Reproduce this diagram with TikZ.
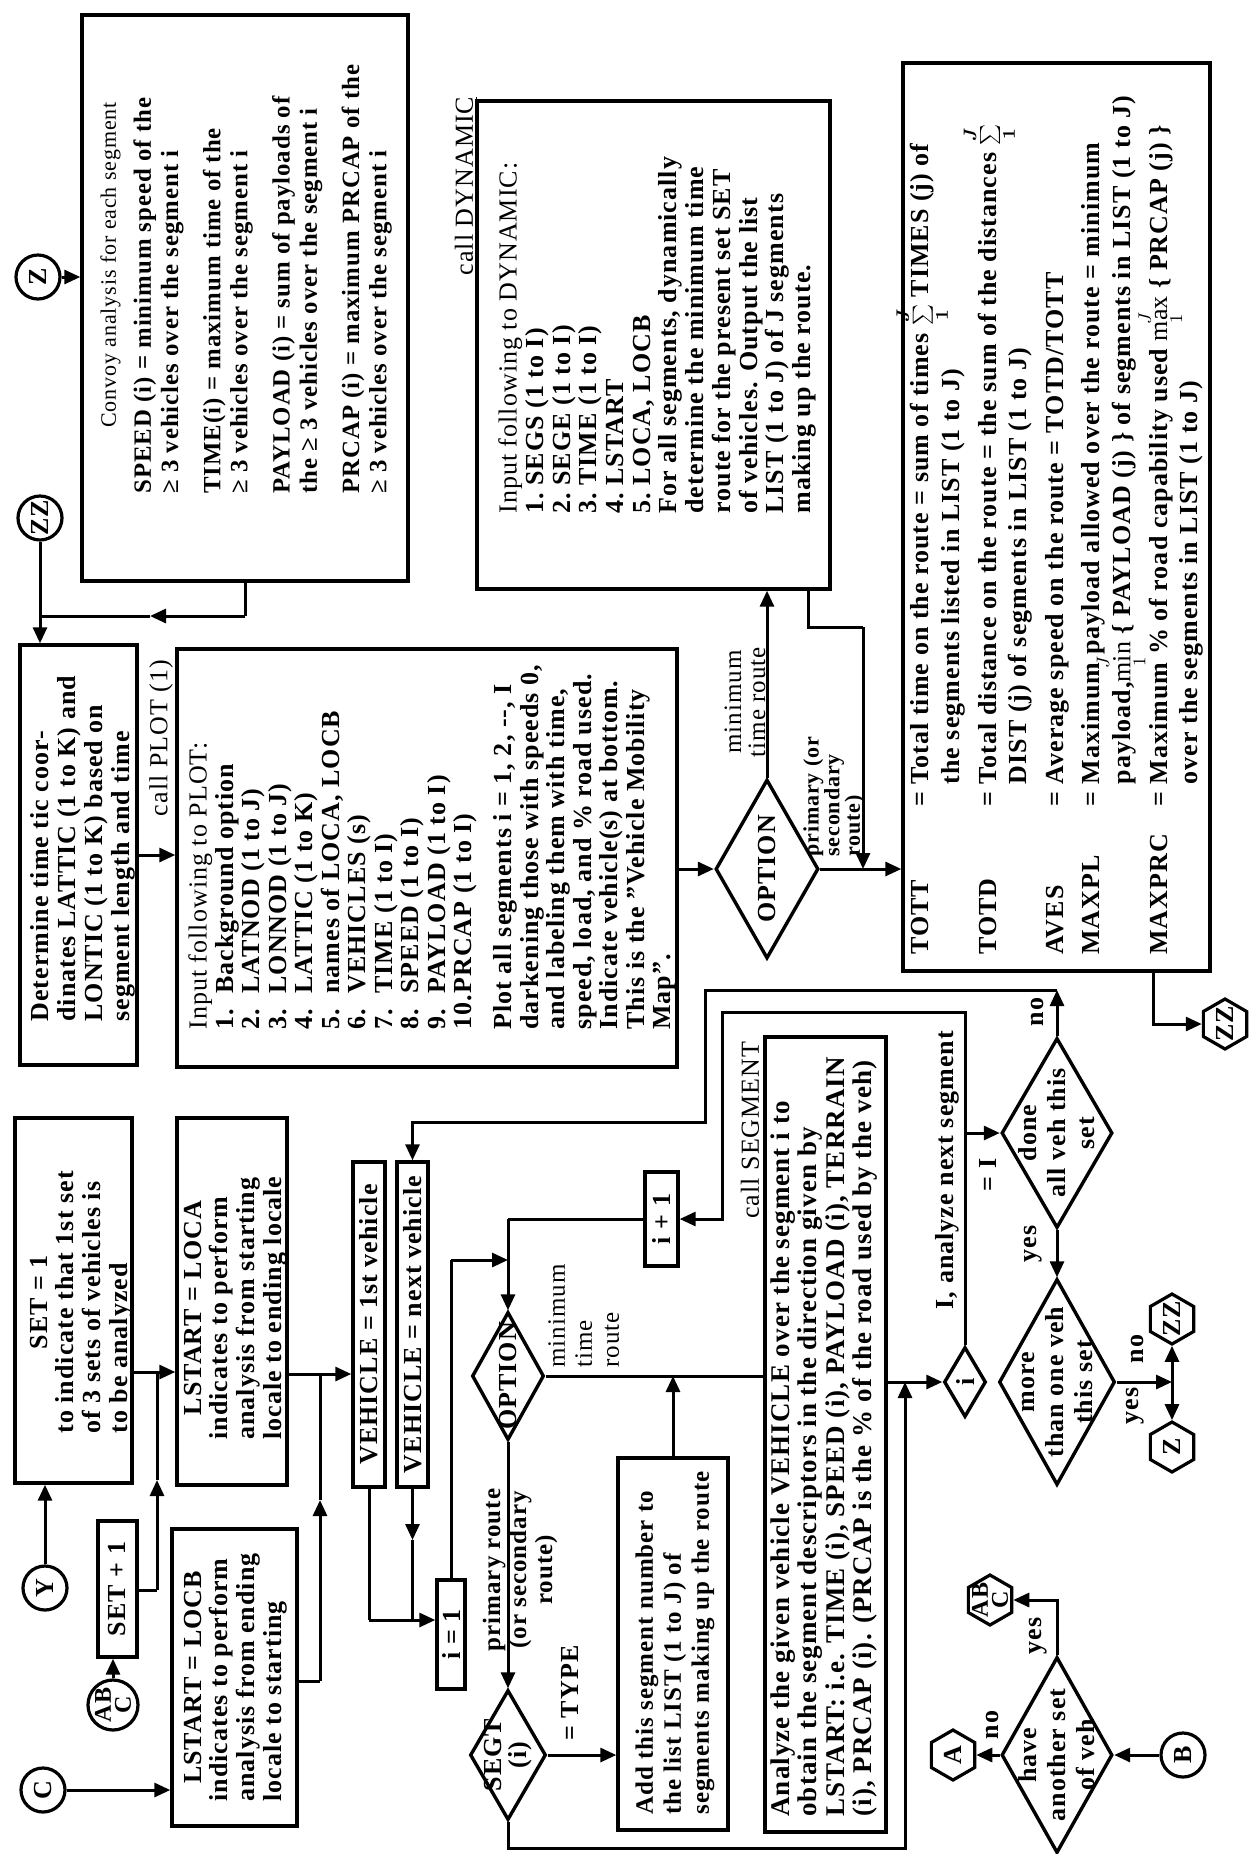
\documentclass[tikz,border=0pt]{standalone}
\usepackage{fontspec}
\setmainfont{Liberation Serif}[LetterSpace=4]
\usetikzlibrary{arrows.meta,shapes.geometric}
\newcommand\setfs[2]{\fontsize{#1}{#2}\selectfont}
\newcommand\numbox[2][18pt]{\makebox[#1][l]{#2}}
\newcommand\mkbox[5]{\node[bx,minimum width={(#4-#2)*0.5pt},minimum height={(#5-#3)*0.5pt}] (#1) at ({(#2+#4)/2},{(#3+#5)/2}) {};}
\begin{document}
\begin{tikzpicture}[x=0.5pt,y=-0.5pt,
 bx/.style={draw,line width=1.7pt,inner sep=0pt},
 circ/.style={draw,circle,line width=1.6pt,inner sep=0pt,minimum size=22pt},
 hex/.style={draw,regular polygon,regular polygon sides=6,shape border rotate=90,line width=1.6pt,inner sep=0pt,minimum size=25pt},
 dm/.style={draw,diamond,line width=1.7pt,inner sep=0pt},
 ln/.style={line width=1.5pt},
 arr/.style={line width=1.5pt,-{Triangle[length=8pt,width=7pt]}},
 txt/.style={rotate=90,inner sep=0pt,align=left,font=\bfseries\setfs{13}{13.2}},
 lab/.style={rotate=90,inner sep=0pt,align=center,font=\setfs{13}{13}},
 labb/.style={rotate=90,inner sep=0pt,align=center,font=\bfseries\setfs{13}{13}},
]
\fill[white] (0,0) rectangle (1250,1854);
\useasboundingbox (0,0) rectangle (1250,1854);

% ---------- boxes ----------
\mkbox{convoy}{82}{15}{408}{581}
\mkbox{det}{20}{645}{137}{1065}
\mkbox{inp}{177}{649}{677}{1067}
\mkbox{dyn}{477}{101}{830}{589}
\mkbox{tott}{903}{63}{1210}{971}
\mkbox{set}{15}{1118}{132}{1483}
\mkbox{setp}{98}{1521}{137}{1657}
\mkbox{loca}{177}{1118}{287}{1485}
\mkbox{locb}{172}{1529}{297}{1826}
\mkbox{veha}{353}{1162}{385}{1487}
\mkbox{vehb}{397}{1162}{428}{1487}
\mkbox{ione}{437}{1580}{465}{1689}
\mkbox{ipl}{645}{1172}{678}{1266}
\mkbox{add}{618}{1458}{728}{1830}
\mkbox{ana}{765}{1037}{886}{1832}

% ---------- diamonds ----------
\node[dm,minimum width=51.5pt,minimum height=89.5pt] (opt1) at (767,869) {};
\node[dm,minimum width=36pt,minimum height=64pt] (opt2) at (508,1376) {};
\node[dm,minimum width=38pt,minimum height=65pt] (segt) at (508,1755) {};
\node[dm,minimum width=21pt,minimum height=35pt] (idia) at (965,1382) {};
\node[dm,minimum width=55.5pt,minimum height=95pt] (done) at (1057,1133) {};
\node[dm,minimum width=58pt,minimum height=103pt] (more) at (1057,1382) {};
\node[dm,minimum width=55.5pt,minimum height=98pt] (have) at (1057,1755) {};

% ---------- circles and hexagons ----------
\node[circ] (Zc) at (38,277) {};
\node[circ] (ZZc) at (40,518) {};
\node[circ] (Yc) at (45,1588) {};
\node[circ,minimum size=25pt] (ABCc) at (113,1705) {};
\node[circ] (Cc) at (43,1790) {};
\node[circ] (Bc) at (1183,1755) {};
\node[hex] (ZZh) at (1225,1024) {};
\node[hex] (ZZh2) at (1172,1319) {};
\node[hex] (Zh2) at (1172,1447) {};
\node[hex] (Ah) at (953,1755) {};
\node[hex] (ABCh) at (990,1600) {};

\node[labb] (tZc) at (Zc) {Z};
\node[labb] (tZZc) at (ZZc) {ZZ};
\node[labb] (tYc) at (Yc) {Y};
\node[labb,font=\bfseries\setfs{12}{10}] (tABCc) at (ABCc) {AB\\C};
\node[labb] (tCc) at (Cc) {C};
\node[labb] (tBc) at (Bc) {B};
\node[labb] (tZZh) at (ZZh) {ZZ};
\node[labb] (tZZh2) at (ZZh2) {ZZ};
\node[labb] (tZh2) at (Zh2) {Z};
\node[labb] (tAh) at (Ah) {A};
\node[labb,font=\bfseries\setfs{12}{10}] (tABCh) at (ABCh) {AB\\C};

% ---------- diamond texts ----------
\node[labb] (topt1) at (opt1) {OPTION};
\node[labb] (topt2) at (opt2) {OPTION};
\node[labb,font=\bfseries\setfs{13}{12.5}] (tsegt) at (segt) {SEGT\\(i)};
\node[labb] (tidia) at (idia) {i};
\node[labb,font=\bfseries\setfs{13}{14.5}] (tdone) at (done) {done\\all veh this\\set};
\node[labb,font=\bfseries\setfs{13}{14.5}] (tmore) at (more) {more\\than one veh\\this set};
\node[labb,font=\bfseries\setfs{13}{14.5}] (thave) at (have) {have\\another set\\of veh};

% ---------- box texts ----------
\node[txt,font=\setfs{11}{13},anchor=north west] (tconv0) at (100,428) {Convoy analysis for each segment};
\node[txt,font=\bfseries\setfs{12.4}{13.6},anchor=north west] (tconv) at (133,494)
 {SPEED (i) = minimum speed of the\\ ≥ 3 vehicles over the segment i\\[7.5pt]
  TIME(i) = maximum time of the\\ ≥ 3 vehicles over the segment i\\[7.5pt]
  PAYLOAD (i) = sum of payloads of\\ the ≥ 3 vehicles over the segment i\\[7.5pt]
  PRCAP (i) = maximum PRCAP of the\\ ≥ 3 vehicles over the segment i};

\node[txt,font=\bfseries\setfs{13}{13.5},anchor=north west] (tdet) at (30,1022)
 {Determine time tic coor-\\dinates LATTIC (1 to K) and\\LONTIC (1 to K) based on\\segment length and time};
\node[lab] (lplot) at (161,738) {call PLOT (1)};

\node[txt,font=\bfseries\setfs{13}{13.25},anchor=north west] (tinp) at (188,1030)
 {{\mdseries Input following to PLOT:}\\
  \numbox{1.}Background option\\
  \numbox{2.}LATNOD (1 to J)\\
  \numbox{3.}LONNOD (1 to J)\\
  \numbox{4.}LATTIC (1 to K)\\
  \numbox{5.}names of LOCA, LOCB\\
  \numbox{6.}VEHICLES (s)\\
  \numbox{7.}TIME (1 to I)\\
  \numbox{8.}SPEED (1 to I)\\
  \numbox{9.}PAYLOAD (1 to I)\\
  \numbox{10.}PRCAP (1 to I)\\[6.75pt]
  Plot all segments i = 1, 2, -{}-, I\\
  darkening those with speeds 0,\\
  and labeling them with time,\\
  speed, load, and \% road used.\\
  Indicate vehicle(s) at bottom.\\
  This is the "Vehicle Mobility\\
  Map".};

\node[txt,font=\bfseries\setfs{13}{13.35},anchor=north west] (tdyn) at (498,514)
 {{\mdseries Input following to DYNAMIC:}\\
  \numbox[14pt]{1.}SEGS (1 to I)\\
  \numbox[14pt]{2.}SEGE (1 to I)\\
  \numbox[14pt]{3.}TIME (1 to I)\\
  \numbox[14pt]{4.}LSTART\\
  \numbox[14pt]{5.}LOCA, LOCB\\
  For all segments, dynamically\\
  determine the minimum time\\
  route for the present set SET\\
  of vehicles. Output the list\\
  LIST (1 to J) of J segments\\
  making up the route.};
\node[lab] (ldyn) at (466,186) {\underline{call DYNAMIC}};

\node[txt,font=\bfseries\setfs{13}{15.3},anchor=north west] (ttott) at (907,955)
 {\begin{tabular}{@{}p{74pt}@{}l@{ }l@{}}
  TOTT & = & Total time on the route = sum of times \smash{\boldmath$\sum\limits_{1}^{J}$} TIMES (j) of\\
   & & the segments listed in LIST (1 to J)\\[3pt]
  TOTD & = & Total distance on the route = the sum of the distances \smash{\boldmath$\sum\limits_{1}^{J}$}\\
   & & DIST (j) of segments in LIST (1 to J)\\[3pt]
  AVES & = & Average speed on the route = TOTD/TOTT\\[3pt]
  MAXPL & = & Maximum payload allowed over the route = minimum\\
   & & payload,\smash{$\min\limits_{1}^{J}$} \{ PAYLOAD (j) \} of segments in LIST (1 to J)\\[3pt]
  MAXPRC & = & Maximum \% of road capability used \smash{$\max\limits_{1}^{J}$} \{ PRCAP (j) \}\\
   & & over the segments in LIST (1 to J)
  \end{tabular}};

\node[txt,font=\bfseries\setfs{13.5}{13.8},anchor=north west] (tana) at (770,1817)
 {Analyze the given vehicle VEHICLE over the segment i to\\
  obtain the segment descriptors in the direction given by\\
  LSTART: i.e. TIME (i), SPEED (i), PAYLOAD (i), TERRAIN\\
  (i), PRCAP (i). (PRCAP is the \% of the road used by the veh)};
\node[lab] (lseg) at (750,1130) {call SEGMENT};

\node[txt,font=\bfseries\setfs{12.5}{14},anchor=north west] (tadd) at (635,1815)
 {Add this segment number to\\the list LIST (1 to J) of\\segments making up the route};

\node[txt,font=\bfseries\setfs{13}{13.4},anchor=north west] (tset) at (28,1434)
 {\begin{tabular}{@{}l@{}}\multicolumn{1}{@{}c@{}}{SET = 1}\\ to indicate that 1st set\\ of 3 sets of vehicles is\\ to be analyzed\end{tabular}};
\node[txt,font=\bfseries\setfs{13}{13.4},anchor=north west] (tloca) at (182,1440)
 {\begin{tabular}{@{}l@{}}\multicolumn{1}{@{}c@{}}{LSTART = LOCA}\\ indicates to perform\\ analysis from starting\\ locale to ending locale\end{tabular}};
\node[txt,font=\bfseries\setfs{13}{13.4},anchor=north west] (tlocb) at (182,1802)
 {\begin{tabular}{@{}l@{}}\multicolumn{1}{@{}c@{}}{LSTART = LOCB}\\ indicates to perform\\ analysis from ending\\ locale to starting\end{tabular}};

\node[labb] (tsetp) at (setp) {SET + 1};
\node[labb] (tveha) at (veha) {VEHICLE = 1st vehicle};
\node[labb] (tvehb) at (vehb) {VEHICLE = next vehicle};
\node[labb] (tione) at (ione) {i = 1};
\node[labb] (tipl) at (ipl) {i + 1};

% ---------- connector labels ----------
\node[lab,font=\setfs{12.5}{12}] (lmin1) at (745,702) {minimum\\time route};
\node[labb,font=\bfseries\setfs{11}{10.3},align=left,anchor=north west] (lprim1) at (803,857) {primary (or\\secondary\\route)};
\node[lab,font=\setfs{12.5}{13.5},align=left,anchor=north west] (lmin2) at (548,1368) {minimum\\time\\route};
\node[labb,font=\bfseries\setfs{12.5}{13}] (lprim2) at (520,1570) {primary route\\(or secondary\\route)};
\node[labb] (ltype) at (570,1693) {= TYPE};
\node[labb] (lnext) at (947,1170) {I, analyze next segment};
\node[labb] (leqI) at (988,1175) {= I};
\node[labb] (lno1) at (1037,1012) {no};
\node[labb] (lyes1) at (1033,1244) {yes};
\node[labb] (lno2) at (1137,1349) {no};
\node[labb] (lyes2) at (1135,1406) {yes};
\node[labb] (lno3) at (992,1725) {no};
\node[labb] (lyes3) at (1038,1636) {yes};

% ---------- connectors ----------
\draw[arr] (Zc.east) -- (Zc.east -| convoy.west);
\coordinate (j1) at (40,616);
\coordinate (j1a) at (245,616);
\coordinate (j1m) at (150,616);
\draw[ln] (convoy.south) -- (j1a);
\draw[arr] (j1a) -- (j1m);
\draw[ln] (j1m) -- (j1);
\draw[arr] (ZZc.south) -- (ZZc.south |- det.north);
\draw[arr] (det.east) -- (det.east -| inp.west);
\draw[arr] (opt1.west -| inp.east) -- (opt1.west);
\draw[arr] (opt1.north) -- (opt1.north |- dyn.south);
\coordinate (d1) at (808,627);
\coordinate (d2) at (863,627);
\coordinate (d3) at (863,869);
\draw[ln] (dyn.south -| d1) -- (d1) -- (d2);
\draw[arr] (d2) -- (d3);
\draw[arr] (opt1.east) -- (opt1.east -| tott.west);
\coordinate (t1) at (1153,1024);
\draw[arr] (tott.south -| t1) -- (t1) -- (ZZh.west);

\coordinate (k1) at (157,1372);
\coordinate (k2) at (157,1590);
\coordinate (k2m) at (157,1480);
\draw[ln] (set.east |- k1) -- (k1);
\draw[arr] (k1) -- (k1 -| loca.west);
\draw[ln] (setp.east |- k2) -- (k2);
\draw[arr] (k2) -- (k2m);
\draw[ln] (k2m) -- (k1);
\draw[arr] (Yc.north) -- (Yc.north |- set.south);
\draw[arr] (ABCc.north) -- (ABCc.north |- setp.south);

\coordinate (k3) at (320,1374);
\coordinate (k4) at (320,1681);
\coordinate (k4m) at (320,1500);
\draw[ln] (loca.east |- k3) -- (k3);
\draw[arr] (k3) -- (k3 -| veha.west);
\draw[ln] (locb.east |- k4) -- (k4);
\draw[arr] (k4) -- (k4m);
\draw[ln] (k4m) -- (k3);
\draw[arr] (Cc.east) -- (Cc.east -| locb.west);

\coordinate (k5) at (369,1620);
\coordinate (k6) at (412.5,1620);
\coordinate (k6m) at (412.5,1540);
\draw[ln] (veha.south) -- (k5);
\draw[arr] (k5) -- (k5 -| ione.west);
\draw[arr] (vehb.south) -- (k6m);
\draw[ln] (k6m) -- (k6);

\coordinate (k7) at (451,1260);
\draw[ln] (ione.north) -- (k7);
\draw[arr] (k7) -- (k7 -| opt2.north);
\coordinate (k8) at (508,1219);
\draw[ln] (ipl.west) -- (k8);
\draw[arr] (k8) -- (opt2.north);

\coordinate (k9) at (965,1012);
\coordinate (k10) at (722,1012);
\coordinate (k10b) at (722,1219);
\draw[arr] (idia.north) -- (k9) -- (k10) -- (k10b) -- (ipl.east);
\coordinate (k11) at (965,1133);
\draw[arr] (k11) -- (done.west);

\draw[ln] (opt2.east) -- (opt2.east -| ana.west);
\draw[arr] (add.north) -- (add.north |- opt2.east);
\draw[arr] (opt2.south) -- (segt.north);
\draw[arr] (segt.east) -- (segt.east -| add.west);
\coordinate (k12) at (508,1848);
\coordinate (k13) at (905,1848);
\draw[arr] (segt.south) -- (k12) -- (k13) -- (k13 |- idia.west);
\draw[arr] (ana.east |- idia.west) -- (idia.west);

\draw[arr] (done.south) -- (more.north);
\coordinate (k15) at (1057,990);
\coordinate (k16) at (705,990);
\coordinate (k17) at (705,1122);
\draw[arr] (done.north) -- (k15);
\draw[arr] (k15) -- (k16) -- (k17) -- (k17 -| vehb.north) -- (vehb.north);

\coordinate (k19) at (1172,1382);
\draw[arr] (more.east) -- (k19);
\draw[arr] (k19) -- (ZZh2.south);
\draw[arr] (k19) -- (Zh2.north);

\draw[arr] (have.west) -- (Ah.east);
\coordinate (k18) at (1057,1600);
\draw[arr] (have.north) -- (k18) -- (ABCh.east);
\draw[arr] (Bc.west) -- (have.east);
\end{tikzpicture}
\end{document}
